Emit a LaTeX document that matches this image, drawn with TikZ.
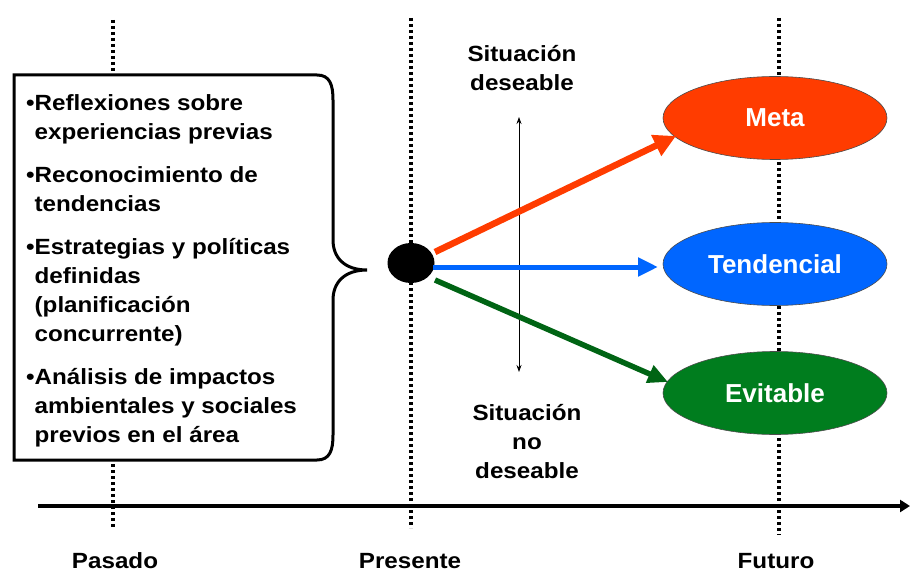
\documentclass[tikz,border=0pt]{standalone}
\usepackage{fontspec}
\setmainfont{Liberation Sans}
\newfontfamily\widefont{Liberation Sans}[FakeStretch=1.1]
\usetikzlibrary{arrows.meta,shapes.geometric}
\definecolor{cred}{RGB}{255,60,0}
\definecolor{cblue}{RGB}{0,102,255}
\definecolor{cgreen}{RGB}{0,125,30}
\definecolor{cdgreen}{RGB}{0,100,20}
\tikzset{
  timeline/.style={line width=3.8pt, dash pattern=on 3pt off 3pt},
  lbl/.style={font=\widefont\fontsize{22}{29}\selectfont\bfseries, align=center, inner sep=0pt},
  oval/.style={ellipse, draw=black!70, line width=0.6pt, minimum width=224pt, minimum height=83pt, inner sep=0pt, text=white, font=\fontsize{26}{30}\selectfont\bfseries},
  bigarrow/.style={line width=5pt, -{Triangle[length=20pt,width=18pt]}},
}
\begin{document}
\begin{tikzpicture}[x=1pt,y=-1pt]
\useasboundingbox (0,0) rectangle (910,572);
% time lines
\coordinate (pT) at (113,20); \coordinate (pB) at (113,528);
\coordinate (prT) at (411,18); \coordinate (prB) at (411,528);
\coordinate (fT) at (779,18); \coordinate (fB) at (779,535);
\draw[timeline] (pT) -- (pB);
\draw[timeline] (prT) -- (prB);
\draw[timeline] (fT) -- (fB);
% axis
\coordinate (a0) at (38,506); \coordinate (a1) at (910,506);
\draw[line width=4pt, -{Triangle[length=10pt,width=12pt]}] (a0) -- (a1);
% bracket box
\draw[line width=3pt, fill=white, line join=miter]
  (317,75) -- (14,75) -- (14,460) -- (317,460)
  .. controls (330,460) and (333,450) .. (333,435)
  -- (333,300)
  .. controls (333,282) and (345,270) .. (367,270)
  .. controls (345,270) and (333,258) .. (333,240)
  -- (333,100)
  .. controls (333,85) and (330,75) .. (317,75);
\node[anchor=base west, align=left, inner sep=0pt, font=\widefont\fontsize{22}{29}\selectfont\bfseries] (txt) at (26,442)
{•Reflexiones sobre\\
\phantom{•}experiencias previas\\[14pt]
•Reconocimiento de\\
\phantom{•}tendencias\\[14pt]
•Estrategias y políticas\\
\phantom{•}definidas\\
\phantom{•}(planificación\\
\phantom{•}concurrente)\\[14pt]
•Análisis de impactos\\
\phantom{•}ambientales y sociales\\
\phantom{•}previos en el área};
% ellipses
\node[oval, fill=cred] (meta) at (775,118) {Meta};
\node[oval, fill=cblue] (tend) at (775,264) {Tendencial};
\node[oval, fill=cgreen] (evit) at (775,393) {Evitable};
% dot
\node[ellipse, fill=black, minimum width=47pt, minimum height=40pt, inner sep=0pt] (dot) at (411,263) {};
% double arrow
\coordinate (dU) at (519,117); \coordinate (dD) at (519,372);
\draw[line width=0.8pt, {Stealth[length=7pt,width=5pt]}-{Stealth[length=7pt,width=5pt]}] (dU) -- (dD);
% arrows
\coordinate (rS) at (435,252); \coordinate (rE) at (676,136);
\coordinate (bS) at (433,267); \coordinate (bE) at (658,267);
\coordinate (gS) at (435,280); \coordinate (gE) at (668,382);
\draw[bigarrow, cred, line width=6.5pt, -{Triangle[length=22pt,width=22pt]}] (rS) -- (rE);
\draw[bigarrow, cblue] (bS) -- (bE);
\draw[bigarrow, cdgreen, line width=5.5pt] (gS) -- (gE);
% labels
\node[lbl, anchor=base] (sd) at (522,91) {Situación\\deseable};
\node[lbl, anchor=base] (snd) at (527,478) {Situación\\no\\deseable};
\node[lbl, anchor=base] (pas) at (115,568) {Pasado};
\node[lbl, anchor=base] (pre) at (410,568) {Presente};
\node[lbl, anchor=base] (fut) at (776,568) {Futuro};
\end{tikzpicture}
\end{document}
